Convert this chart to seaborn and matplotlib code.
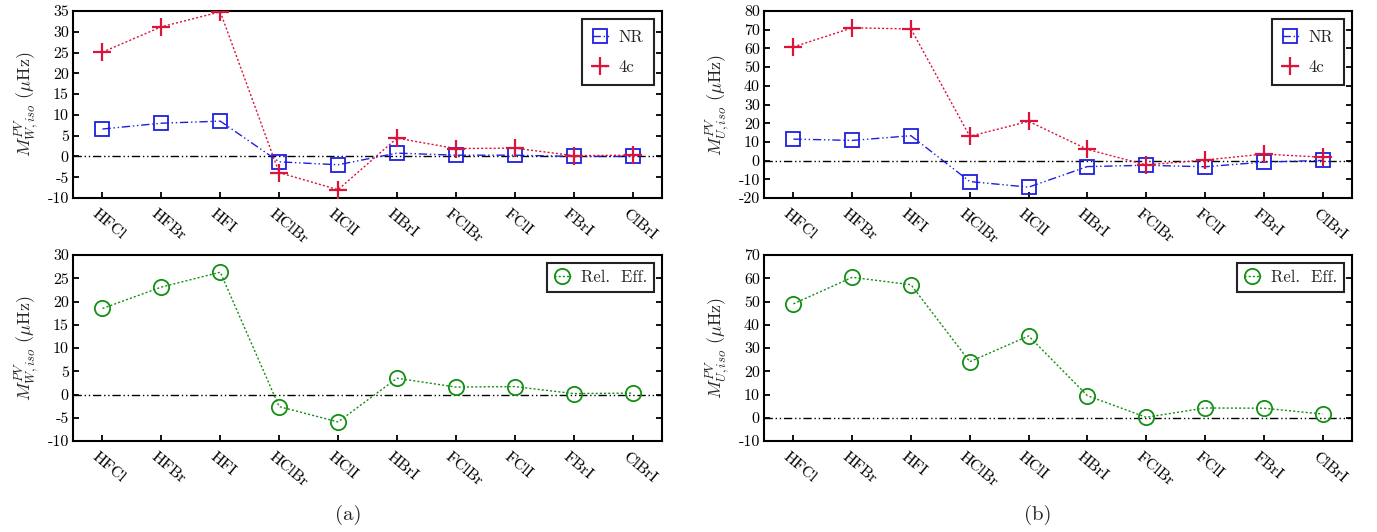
import numpy as np
import pandas as pd
import matplotlib
matplotlib.use("Agg")
import matplotlib.pyplot as plt
import seaborn as sns

molecules = ["HFCl", "HFBr", "HFI", "HClBr", "HClI", "HBrI", "FClBr", "FClI", "FBrI", "ClBrI"]

w_nr = [6.6, 8.0, 8.5, -1.3, -2.0, 0.8, 0.3, 0.3, 0.0, 0.0]
w_4c = [25.1, 31.2, 34.8, -3.9, -8.0, 4.4, 1.9, 2.0, 0.2, 0.3]
w_rel = [18.5, 23.1, 26.3, -2.6, -5.9, 3.5, 1.6, 1.7, 0.2, 0.3]

u_nr = [11.5, 10.8, 13.3, -11.2, -14.2, -3.2, -2.5, -3.3, -0.8, 0.1]
u_4c = [60.8, 71.0, 70.4, 13.0, 21.0, 6.0, -2.3, 0.3, 3.5, 1.8]
u_rel = [49.0, 60.4, 57.2, 24.1, 35.2, 9.5, 0.2, 4.2, 4.1, 1.6]

sns.set_theme(style="white")
plt.rcParams.update({
    "font.family": "serif",
    "font.serif": ["cmr10", "DejaVu Serif"],
    "mathtext.fontset": "cm",
    "axes.unicode_minus": False,
    "axes.formatter.use_mathtext": False,
})

fig = plt.figure(figsize=(13.77, 5.32), dpi=100)
W, H = 1377, 532

def axpos(x0, x1, y0, y1):
    return [x0 / W, 1 - y1 / H, (x1 - x0) / W, (y1 - y0) / H]

ax_tl = fig.add_axes(axpos(73, 662, 11, 198))
ax_tr = fig.add_axes(axpos(764, 1352, 11, 198))
ax_bl = fig.add_axes(axpos(73, 662, 255, 441))
ax_br = fig.add_axes(axpos(764, 1352, 255, 441))

idx = np.arange(len(molecules))
blue = "#1f1fe0"
red = "#dc143c"
green = "#138f13"
dashdotdot = (6, 2, 1, 2, 1, 2)

def style_axis(ax, ylim, ystep, ylabel):
    ax.axhline(0, color="black", lw=1.0, dashes=dashdotdot, zorder=1)
    ax.set_xlim(-0.5, len(molecules) - 0.5)
    ax.set_ylim(*ylim)
    ticks = np.arange(ylim[0], ylim[1] + 0.1, ystep)
    ax.set_yticks(ticks)
    ax.set_yticklabels([str(int(v)) for v in ticks])
    ax.set_xticks(idx)
    ax.set_xticklabels(molecules, rotation=-40, ha="left", va="top",
                       rotation_mode="anchor")
    ax.tick_params(axis="y", which="both", direction="in", left=True, right=True,
                   length=4, width=1.3, labelsize=11.5, pad=3, colors="black")
    ax.tick_params(axis="x", direction="in", bottom=True, top=False,
                   length=4, width=1.3, labelsize=11.5, pad=4, colors="black")
    for lab in ax.get_xticklabels():
        lab.set_transform(lab.get_transform() + matplotlib.transforms.ScaledTranslation(-4/100, -3/100, fig.dpi_scale_trans))
    for s in ax.spines.values():
        s.set_linewidth(1.5)
        s.set_color("black")
    ax.set_ylabel(ylabel, fontsize=13, labelpad=5)
    ax.set_xlabel("")

def plot_series(ax, vals, label, color, marker, dashes, ms, mew):
    df = pd.DataFrame({"x": idx, "y": vals})
    sns.lineplot(data=df, x="x", y="y", ax=ax, color=color, marker=marker,
                 markersize=ms, markeredgewidth=mew, markerfacecolor="none",
                 markeredgecolor=color, lw=1.0, dashes=False, label=label,
                 sort=False, zorder=3)
    ax.get_lines()[-1].set_dashes(dashes)

def legend(ax, spacing, pad):
    leg = ax.legend(loc="upper right", fontsize=12, frameon=True, fancybox=False,
                    framealpha=1, edgecolor="#222222", handlelength=1.0,
                    labelspacing=spacing, borderpad=pad, handletextpad=0.6,
                    borderaxespad=0.5)
    leg.get_frame().set_linewidth(1.5)

plot_series(ax_tl, w_nr, "NR", blue, "s", dashdotdot, 10, 1.3)
plot_series(ax_tl, w_4c, "4c", red, "+", (1.5, 1.5), 13, 1.6)
style_axis(ax_tl, (-10, 35), 5, r"$M^{PV}_{W,iso}$ ($\mathrm{\mu}$Hz)")
legend(ax_tl, 0.9, 0.6)

plot_series(ax_tr, u_nr, "NR", blue, "s", dashdotdot, 10, 1.3)
plot_series(ax_tr, u_4c, "4c", red, "+", (1.5, 1.5), 13, 1.6)
style_axis(ax_tr, (-20, 80), 10, r"$M^{PV}_{U,iso}$ ($\mu$Hz)")
legend(ax_tr, 0.9, 0.6)

plot_series(ax_bl, w_rel, "Rel.  Eff.", green, "o", (1.5, 1.5), 11, 1.3)
style_axis(ax_bl, (-10, 30), 5, r"$M^{PV}_{W,iso}$ ($\mu$Hz)")
legend(ax_bl, 0.5, 0.4)

plot_series(ax_br, u_rel, "Rel.  Eff.", green, "o", (1.5, 1.5), 11, 1.3)
style_axis(ax_br, (-10, 70), 10, r"$M^{PV}_{U,iso}$ ($\mathrm{\mu}$Hz)")
legend(ax_br, 0.5, 0.4)

fig.text(348 / W, 1 - 515 / H, "(a)", ha="center", va="center", fontsize=15)
fig.text(1038 / W, 1 - 515 / H, "(b)", ha="center", va="center", fontsize=15)

fig.savefig("out.png", dpi=100)
